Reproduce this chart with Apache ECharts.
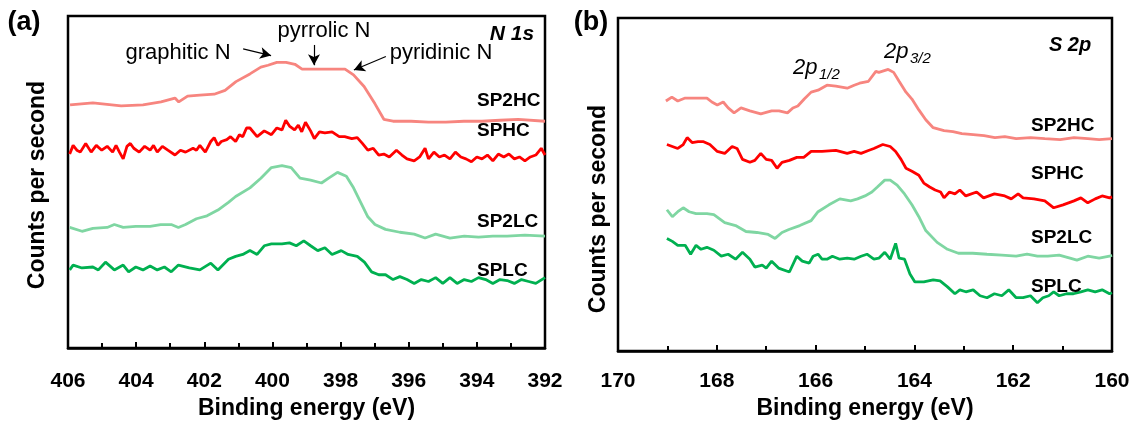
<!DOCTYPE html>
<html>
<head>
<meta charset="utf-8">
<script src="https://cdn.jsdelivr.net/npm/echarts@6/dist/echarts.min.js"></script>
<style>
  html, body { margin: 0; padding: 0; background: #fff; }
  #chart { width: 1134px; height: 425px; }
</style>
</head>
<body>
<div id="chart"></div>
<script>
// ── Data: [binding energy (eV), counts (a.u.)] ───────────────────────────────
// (a) N 1s
const n1sSP2HC = [
  [405.94, 252], [405.27, 254], [404.44, 251], [403.80, 252], [403.27, 255], [402.86, 259],
  [402.75, 255], [402.49, 261], [402.13, 262], [401.71, 263], [401.39, 267], [401.07, 276],
  [400.66, 284], [400.34, 291], [400.13, 293], [399.87, 296], [399.60, 296], [399.34, 294],
  [399.13, 289], [398.82, 289], [398.57, 289], [398.13, 289], [397.87, 289], [397.62, 283],
  [397.31, 271], [396.99, 253], [396.73, 237], [396.46, 235], [395.93, 235], [395.42, 234],
  [394.91, 234], [394.38, 235], [393.85, 235], [393.32, 236], [392.79, 237], [392.00, 235]
];
const n1sSPHC = [
  [405.95, 201], [405.85, 210], [405.74, 205], [405.64, 203], [405.48, 212], [405.32, 203],
  [405.17, 210], [405.01, 205], [404.85, 209], [404.69, 203], [404.59, 210], [404.49, 203],
  [404.38, 196], [404.27, 209], [404.17, 212], [404.07, 207], [403.91, 203], [403.75, 209],
  [403.59, 205], [403.49, 210], [403.38, 203], [403.23, 209], [403.07, 205], [402.86, 200],
  [402.70, 205], [402.55, 203], [402.33, 207], [402.23, 205], [402.13, 210], [401.97, 203],
  [401.81, 214], [401.71, 218], [401.60, 210], [401.50, 214], [401.34, 216], [401.23, 219],
  [401.08, 214], [400.97, 221], [400.87, 219], [400.76, 228], [400.66, 228], [400.45, 219],
  [400.24, 225], [400.03, 221], [399.87, 228], [399.72, 226], [399.61, 236], [399.50, 230],
  [399.35, 226], [399.24, 231], [399.14, 224], [399.03, 234], [398.88, 225], [398.77, 217],
  [398.62, 224], [398.46, 223], [398.25, 224], [398.04, 219], [397.88, 219], [397.67, 217],
  [397.51, 218], [397.36, 212], [397.20, 205], [397.04, 207], [396.88, 200], [396.73, 201],
  [396.57, 198], [396.36, 205], [396.20, 200], [396.05, 196], [395.84, 194], [395.68, 198],
  [395.52, 207], [395.42, 196], [395.26, 203], [395.10, 198], [394.95, 200], [394.79, 196],
  [394.63, 203], [394.47, 198], [394.32, 196], [394.16, 193], [394.00, 198], [393.85, 196],
  [393.69, 200], [393.53, 194], [393.37, 201], [393.21, 198], [393.06, 201], [392.90, 196],
  [392.75, 198], [392.59, 194], [392.43, 198], [392.27, 200], [392.11, 207], [392.00, 200]
];
const n1sSP2LC = [
  [405.95, 125], [405.59, 121], [405.27, 124], [404.85, 125], [404.64, 128], [404.38, 125],
  [404.01, 126], [403.59, 126], [403.28, 128], [402.97, 128], [402.76, 125], [402.55, 128],
  [402.23, 134], [401.92, 137], [401.60, 143], [401.29, 151], [401.08, 157], [400.66, 166],
  [400.34, 176], [400.03, 187], [399.72, 189], [399.45, 187], [399.19, 176], [398.88, 174],
  [398.56, 171], [398.35, 176], [398.09, 182], [397.83, 178], [397.62, 166], [397.41, 151],
  [397.20, 136], [396.99, 128], [396.68, 123], [396.26, 120], [395.84, 118], [395.52, 114],
  [395.21, 118], [394.79, 114], [394.37, 116], [393.95, 115], [393.53, 116], [393.11, 116],
  [392.59, 117], [392.00, 116]
];
const n1sSPLC = [
  [405.95, 81], [405.85, 86], [405.59, 83], [405.27, 84], [405.11, 81], [404.90, 89],
  [404.64, 81], [404.38, 86], [404.22, 79], [404.01, 84], [403.80, 81], [403.59, 85],
  [403.38, 81], [403.17, 84], [402.97, 79], [402.76, 86], [402.44, 83], [402.13, 81],
  [401.81, 88], [401.60, 81], [401.29, 92], [401.08, 95], [400.87, 97], [400.66, 101],
  [400.45, 97], [400.24, 106], [400.03, 108], [399.72, 108], [399.50, 109], [399.30, 106],
  [399.08, 111], [398.88, 106], [398.67, 101], [398.46, 104], [398.25, 97], [397.98, 101],
  [397.78, 97], [397.51, 95], [397.30, 89], [397.09, 79], [396.88, 76], [396.68, 76],
  [396.46, 71], [396.26, 74], [396.05, 71], [395.84, 67], [395.63, 71], [395.42, 69],
  [395.21, 73], [395.00, 67], [394.79, 73], [394.58, 67], [394.37, 71], [394.16, 69],
  [393.95, 73], [393.74, 71], [393.53, 67], [393.32, 71], [393.11, 70], [392.90, 67],
  [392.69, 71], [392.48, 69], [392.27, 67], [392.00, 73]
];

// (b) S 2p
const s2pSP2HC = [
  [169.03, 253], [168.91, 257], [168.79, 253], [168.64, 256], [168.50, 256], [168.20, 256],
  [168.10, 252], [167.99, 249], [167.87, 252], [167.77, 246], [167.65, 241], [167.51, 246],
  [167.33, 243], [167.11, 240], [166.89, 243], [166.74, 243], [166.57, 241], [166.46, 246],
  [166.36, 248], [166.23, 255], [166.09, 262], [165.95, 264], [165.77, 269], [165.59, 268],
  [165.36, 266], [165.22, 269], [165.11, 271], [164.93, 273], [164.78, 283], [164.72, 282],
  [164.53, 285], [164.42, 282], [164.31, 273], [164.17, 262], [164.05, 255], [163.91, 244],
  [163.77, 234], [163.62, 226], [163.40, 223], [163.22, 222], [163.04, 220], [162.81, 219],
  [162.59, 218], [162.37, 216], [162.17, 217], [161.94, 215], [161.65, 216], [161.36, 215],
  [161.05, 214], [160.77, 216], [160.49, 215], [160.26, 214], [160.00, 215]
];
const s2pSPHC = [
  [169.01, 209], [168.90, 207], [168.79, 205], [168.68, 209], [168.60, 216], [168.50, 211],
  [168.38, 212], [168.28, 212], [168.14, 209], [167.99, 202], [167.84, 200], [167.69, 207],
  [167.59, 205], [167.48, 194], [167.33, 191], [167.23, 193], [167.11, 200], [167.00, 194],
  [166.89, 193], [166.78, 185], [166.68, 191], [166.53, 193], [166.38, 196], [166.24, 196],
  [166.09, 202], [165.87, 202], [165.59, 203], [165.36, 200], [165.22, 202], [165.08, 200],
  [164.93, 203], [164.82, 205], [164.64, 209], [164.49, 207], [164.38, 202], [164.27, 194],
  [164.17, 185], [164.05, 182], [163.91, 178], [163.81, 170], [163.69, 166], [163.58, 163],
  [163.47, 161], [163.40, 155], [163.29, 161], [163.18, 159], [163.08, 163], [162.96, 157],
  [162.74, 161], [162.60, 155], [162.38, 159], [162.17, 157], [162.04, 154], [161.90, 159],
  [161.80, 155], [161.58, 154], [161.36, 152], [161.18, 145], [160.99, 148], [160.77, 152],
  [160.63, 155], [160.49, 150], [160.34, 154], [160.20, 157], [160.05, 155], [160.00, 156]
];
const s2pSP2LC = [
  [169.01, 143], [168.90, 136], [168.79, 141], [168.68, 145], [168.56, 141], [168.42, 139],
  [168.20, 139], [168.06, 138], [167.84, 130], [167.62, 127], [167.41, 121], [167.19, 120],
  [166.96, 118], [166.82, 114], [166.68, 120], [166.54, 123], [166.32, 127], [166.09, 132],
  [165.95, 141], [165.73, 148], [165.51, 154], [165.29, 152], [165.15, 154], [165.00, 157],
  [164.86, 161], [164.75, 166], [164.60, 173], [164.49, 173], [164.35, 168], [164.20, 159],
  [164.05, 148], [163.91, 136], [163.77, 122], [163.54, 110], [163.33, 103], [163.11, 99],
  [162.82, 99], [162.53, 98], [162.23, 97], [161.94, 96], [161.72, 98], [161.51, 96],
  [161.30, 96], [161.07, 97], [160.85, 94], [160.71, 92], [160.49, 96], [160.26, 94],
  [160.05, 96], [160.00, 97]
];
const s2pSPLC = [
  [169.01, 114], [168.90, 111], [168.79, 107], [168.64, 107], [168.53, 98], [168.42, 107],
  [168.32, 103], [168.20, 105], [168.06, 102], [167.91, 96], [167.77, 98], [167.62, 93],
  [167.48, 100], [167.33, 93], [167.23, 85], [167.08, 87], [167.00, 84], [166.89, 91],
  [166.75, 84], [166.53, 80], [166.38, 96], [166.27, 91], [166.13, 89], [166.05, 96],
  [165.95, 98], [165.87, 93], [165.77, 93], [165.66, 96], [165.51, 93], [165.36, 94],
  [165.22, 93], [165.08, 96], [164.96, 98], [164.82, 93], [164.72, 94], [164.60, 100],
  [164.49, 93], [164.38, 109], [164.31, 94], [164.20, 93], [164.09, 78], [163.99, 70],
  [163.81, 70], [163.62, 72], [163.48, 71], [163.33, 65], [163.18, 58], [163.08, 62],
  [162.96, 60], [162.81, 62], [162.67, 56], [162.53, 54], [162.38, 58], [162.23, 56],
  [162.09, 62], [161.94, 54], [161.80, 54], [161.65, 56], [161.51, 49], [161.40, 54],
  [161.28, 56], [161.18, 60], [161.07, 56], [160.92, 58], [160.78, 58], [160.63, 60],
  [160.49, 62], [160.34, 60], [160.20, 62], [160.05, 58], [160.00, 59]
];

const sampleNames = ["SP2HC", "SPHC", "SP2LC", "SPLC"];
const xTicksA = { min: 392, max: 406, step: 2 };
const xTicksB = { min: 160, max: 170, step: 2 };

// annotation arrows in panel (a), data coords [eV, counts]
const peakArrows = [
  [[400.86, 310], [400.04, 303]],
  [[398.78, 314], [398.78, 293]],
  [[396.67, 302], [397.61, 288]]
];

// ── Styling ─────────────────────────────────────────────────────────────────
const FONT = "'Liberation Sans', Arial, sans-serif";
const colors = ["#f7857f", "#ff0000", "#7fd6a2", "#00b050"];

function makeXAxis(gridIndex, range, labelMargin, nameGap) {
  return {
    gridIndex: gridIndex,
    type: "value",
    min: range.min,
    max: range.max,
    interval: range.step,
    inverse: true,
    axisLine: { show: true, onZero: false, lineStyle: { color: "#000", width: 2.5 } },
    axisTick: { show: true, inside: true, length: 6, lineStyle: { color: "#000", width: 2 } },
    minorTick: { show: true, splitNumber: 2, length: 5, lineStyle: { color: "#000", width: 2 } },
    splitLine: { show: false },
    axisLabel: { color: "#000", fontSize: 21, fontWeight: "bold", fontFamily: FONT, margin: labelMargin },
    name: "Binding energy (eV)",
    nameLocation: "middle",
    nameGap: nameGap,
    nameTextStyle: { color: "#000", fontSize: 23, fontWeight: "bold", fontFamily: FONT }
  };
}

function makeYAxis(gridIndex, max) {
  return {
    gridIndex: gridIndex,
    type: "value",
    min: 0,
    max: max,
    axisLine: { show: false },
    axisTick: { show: false },
    axisLabel: { show: false },
    splitLine: { show: false }
  };
}

function line(name, data, idx, colorIdx) {
  return {
    name: name,
    type: "line",
    xAxisIndex: idx,
    yAxisIndex: idx,
    data: data,
    showSymbol: false,
    smooth: false,
    lineStyle: { color: colors[colorIdx], width: 2.8 },
    itemStyle: { color: colors[colorIdx] },
    z: 3
  };
}

function txt(x, y, text, font, align, extra) {
  return Object.assign({
    type: "text",
    x: x,
    y: y,
    style: { text: text, font: font, fill: "#000", align: align || "center", verticalAlign: "middle" },
    z: 10
  }, extra || {});
}

const seriesA = [n1sSP2HC, n1sSPHC, n1sSP2LC, n1sSPLC].map((d, i) => line(sampleNames[i], d, 0, i));
const seriesB = [s2pSP2HC, s2pSPHC, s2pSP2LC, s2pSPLC].map((d, i) => line(sampleNames[i], d, 1, i));

seriesA[0].markLine = {
  silent: true,
  symbol: ["none", "arrow"],
  symbolSize: [9, 11],
  label: { show: false },
  lineStyle: { color: "#000", width: 1.2, type: "solid" },
  data: peakArrows.map(p => [{ coord: p[0] }, { coord: p[1] }])
};

const bold19 = "bold 19px " + FONT;
const labelYA = [101, 131, 222, 271];
const labelYB = [126, 174, 238, 287];

const graphics = [
  txt(24, 23, "(a)", "bold 27px " + FONT),
  txt(591, 23, "(b)", "bold 27px " + FONT),
  txt(38, 185, "Counts per second", "bold 23px " + FONT, "center", { rotation: Math.PI / 2 }),
  txt(599, 209, "Counts per second", "bold 23px " + FONT, "center", { rotation: Math.PI / 2 }),
  txt(512, 34, "N 1s", "italic bold 21px " + FONT),
  txt(1070, 45, "S 2p", "italic bold 20px " + FONT),
  txt(178, 53, "graphitic N", "22px " + FONT),
  txt(324, 31, "pyrrolic N", "22px " + FONT),
  txt(441, 53, "pyridinic N", "22px " + FONT),
  txt(793, 68, "2p", "italic 22px " + FONT, "left"),
  txt(819, 75, "1/2", "italic 15px " + FONT, "left"),
  txt(884, 52, "2p", "italic 22px " + FONT, "left"),
  txt(910, 59, "3/2", "italic 15px " + FONT, "left")
];
sampleNames.forEach((n, i) => {
  graphics.push(txt(477, labelYA[i], n, bold19, "left"));
  graphics.push(txt(1031, labelYB[i], n, bold19, "left"));
});

const chart = echarts.init(document.getElementById("chart"), null, { renderer: "canvas" });
chart.setOption({
  animation: false,
  backgroundColor: "#fff",
  grid: [
    { left: 68, top: 16, width: 477, height: 344, show: true, borderColor: "#000", borderWidth: 2.5, backgroundColor: "transparent" },
    { left: 618, top: 18, width: 494, height: 337, show: true, borderColor: "#000", borderWidth: 2.5, backgroundColor: "transparent" }
  ],
  xAxis: [makeXAxis(0, xTicksA, 23, 44), makeXAxis(1, xTicksB, 20, 40)],
  yAxis: [makeYAxis(0, 344), makeYAxis(1, 337)],
  series: seriesA.concat(seriesB),
  graphic: graphics
});
</script>
</body>
</html>
